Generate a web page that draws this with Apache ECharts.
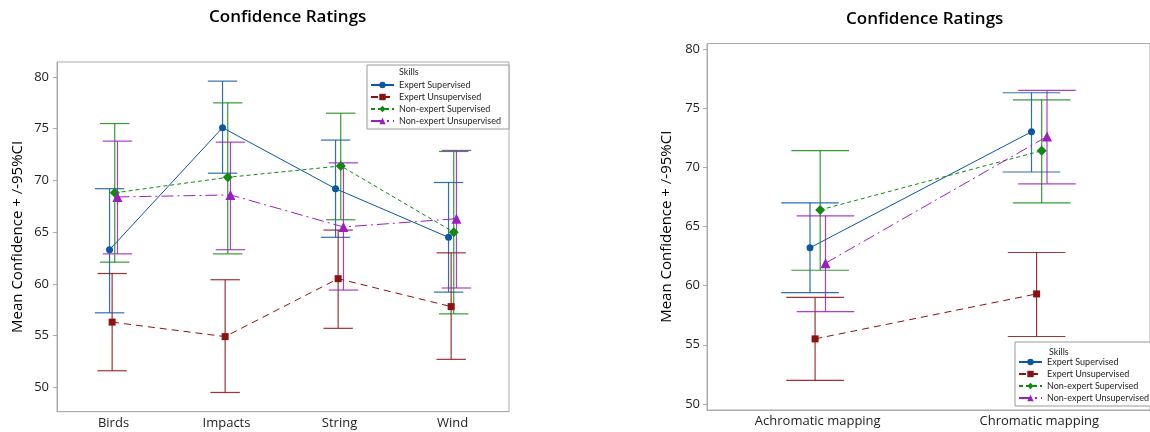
<!DOCTYPE html>
<html>
<head>
<meta charset="utf-8">
<script src="https://cdn.jsdelivr.net/npm/echarts@6/dist/echarts.min.js"></script>
<style>
html,body{margin:0;padding:0;background:#fff;}
#chart{width:1150px;height:432px;}
</style>
</head>
<body>
<div id="chart"></div>
<script>
// ---------- data ----------
const chartTitle = 'Confidence Ratings';
const yAxisTitle = 'Mean Confidence + /-95%CI';
const legendTitle = 'Skills';
const seriesNames = ['Expert Supervised', 'Expert Unsupervised', 'Non-expert Supervised', 'Non-expert Unsupervised'];

// left panel
const categoriesA = ['Birds', 'Impacts', 'String', 'Wind'];
const expSupA = [63.3, 75.1, 69.2, 64.5];
const expSupA_lo = [57.2, 70.7, 64.5, 59.2];
const expSupA_hi = [69.2, 79.6, 73.9, 69.8];
const expUnsA = [56.3, 54.9, 60.5, 57.8];
const expUnsA_lo = [51.6, 49.5, 55.7, 52.7];
const expUnsA_hi = [61.0, 60.4, 65.2, 63.0];
const nexSupA = [68.8, 70.3, 71.4, 65.0];
const nexSupA_lo = [62.1, 62.9, 66.2, 57.1];
const nexSupA_hi = [75.5, 77.5, 76.5, 72.8];
const nexUnsA = [68.4, 68.6, 65.5, 66.3];
const nexUnsA_lo = [62.9, 63.3, 59.4, 59.6];
const nexUnsA_hi = [73.8, 73.7, 71.7, 72.9];

// right panel
const categoriesB = ['Achromatic mapping', 'Chromatic mapping'];
const expSupB = [63.2, 73.0];
const expSupB_lo = [59.4, 69.6];
const expSupB_hi = [67.0, 76.3];
const expUnsB = [55.5, 59.3];
const expUnsB_lo = [52.0, 55.7];
const expUnsB_hi = [59.0, 62.8];
const nexSupB = [66.4, 71.4];
const nexSupB_lo = [61.3, 67.0];
const nexSupB_hi = [71.4, 75.7];
const nexUnsB = [61.9, 72.6];
const nexUnsB_lo = [57.8, 68.6];
const nexUnsB_hi = [65.9, 76.5];

// ---------- styles ----------
const colors = ['#0b57a4', '#8c1212', '#128a12', '#9b1fbf'];
const symbols = ['circle', 'rect', 'diamond', 'triangle'];
const symbolSizes = [7, 7, 10, 10];
const lineTypes = ['solid', [7, 5], [4, 3], [12, 4, 2, 4]];
const dodge = [-0.035, -0.012, 0.011, 0.035];
const capHalf = 0.13;
const FONT = '"Open Sans", "Noto Sans", sans-serif';
const LEGEND_FONT = 'Lato, "Open Sans", sans-serif';

const panels = [
  { cats: categoriesA, means: [expSupA, expUnsA, nexSupA, nexUnsA],
    lo: [expSupA_lo, expUnsA_lo, nexSupA_lo, nexUnsA_lo],
    hi: [expSupA_hi, expUnsA_hi, nexSupA_hi, nexUnsA_hi],
    grid: { left: 57, top: 62, width: 452, height: 349.7 },
    yMin: 47.64, yMax: 81.45, nameGap: 32, labelMargin: 8 },
  { cats: categoriesB, means: [expSupB, expUnsB, nexSupB, nexUnsB],
    lo: [expSupB_lo, expUnsB_lo, nexSupB_lo, nexUnsB_lo],
    hi: [expSupB_hi, expUnsB_hi, nexSupB_hi, nexUnsB_hi],
    grid: { left: 707, top: 43.5, width: 450, height: 366.5 },
    yMin: 49.49, yMax: 80.46, nameGap: 33, labelMargin: 7 }
];

const grids = [], xAxes = [], yAxes = [], series = [];
panels.forEach((p, pi) => {
  grids.push(Object.assign({ show: true, borderColor: '#ababab', borderWidth: 1, backgroundColor: '#fff' }, p.grid));
  // visible category axis (labels/ticks)
  xAxes.push({
    type: 'category', gridIndex: pi, data: p.cats, position: 'bottom',
    axisLine: { onZero: false, lineStyle: { color: '#ababab' } },
    axisTick: { alignWithLabel: true, length: 4, lineStyle: { color: '#ababab' } },
    axisLabel: { color: '#1e1e1e', fontSize: 13, fontFamily: FONT, margin: 5 },
    splitLine: { show: false }
  });
  // hidden numeric axis for dodged marks
  xAxes.push({
    type: 'value', gridIndex: pi, show: false, min: -0.5, max: p.cats.length - 0.5,
    axisLine: { onZero: false }, splitLine: { show: false }
  });
  yAxes.push({
    type: 'value', gridIndex: pi, min: p.yMin, max: p.yMax,
    name: yAxisTitle, nameLocation: 'middle', nameGap: p.nameGap,
    nameTextStyle: { color: '#000', fontSize: 15, fontFamily: FONT, fontWeight: 500 },
    axisLine: { show: true, onZero: false, lineStyle: { color: '#ababab' } },
    axisTick: { show: true, length: 4, lineStyle: { color: '#ababab' } },
    axisLabel: { color: '#1e1e1e', fontSize: 13, fontFamily: FONT, margin: p.labelMargin,
      showMinLabel: false, showMaxLabel: false,
      formatter: v => (Math.abs(v % 5) < 1e-6 ? String(v) : '') },
    splitLine: { show: false }
  });
  const xIdx = pi * 2 + 1;
  seriesNames.forEach((name, s) => {
    const col = colors[s];
    series.push({
      type: 'custom', name: name + ' CI ' + pi, xAxisIndex: xIdx, yAxisIndex: pi,
      silent: true, z: 1,
      data: p.cats.map((c, i) => [i + dodge[s], p.lo[s][i], p.hi[s][i]]),
      encode: { x: 0, y: [1, 2] },
      renderItem: (params, api) => {
        const x = api.value(0), lo = api.value(1), hi = api.value(2);
        const a = api.coord([x, lo]), b = api.coord([x, hi]);
        const hw = api.size([capHalf, 0])[0];
        const st = { stroke: col, lineWidth: 1.2, opacity: 0.85 };
        return { type: 'group', children: [
          { type: 'line', shape: { x1: a[0], y1: a[1], x2: b[0], y2: b[1] }, style: st },
          { type: 'line', shape: { x1: a[0] - hw, y1: a[1], x2: a[0] + hw, y2: a[1] }, style: st },
          { type: 'line', shape: { x1: b[0] - hw, y1: b[1], x2: b[0] + hw, y2: b[1] }, style: st }
        ] };
      }
    });
    series.push({
      type: 'line', name: name, xAxisIndex: xIdx, yAxisIndex: pi, z: 3,
      data: p.cats.map((c, i) => [i + dodge[s], p.means[s][i]]),
      symbol: symbols[s], symbolSize: symbolSizes[s], showSymbol: true,
      itemStyle: { color: col },
      lineStyle: { color: col, width: 1, type: lineTypes[s] },
      animation: false
    });
  });
});

const legendCommon = {
  orient: 'vertical', data: seriesNames, itemWidth: 23, itemHeight: 8, itemGap: 2,
  borderColor: '#9a9a9a', borderWidth: 1, backgroundColor: '#fff',
  textStyle: { fontSize: 9, lineHeight: 10, color: '#1e1e1e', fontFamily: LEGEND_FONT, padding: [0, 0, 0, 0] },
  selectedMode: false, z: 10
};

const option = {
  backgroundColor: '#fff',
  animation: false,
  title: [
    { text: chartTitle, left: 209, top: 9, padding: 0,
      textStyle: { fontSize: 17, fontWeight: 600, color: '#000', fontFamily: FONT } },
    { text: chartTitle, left: 846, top: 11, padding: 0,
      textStyle: { fontSize: 17, fontWeight: 600, color: '#000', fontFamily: FONT } },
    { text: legendTitle, left: 399, top: 68, padding: 0, z: 12,
      textStyle: { fontSize: 9, fontWeight: 400, color: '#1e1e1e', fontFamily: LEGEND_FONT } },
    { text: legendTitle, left: 1049, top: 348, padding: 0, z: 12,
      textStyle: { fontSize: 9, fontWeight: 400, color: '#1e1e1e', fontFamily: LEGEND_FONT } }
  ],
  legend: [
    Object.assign({ left: 367, top: 65, padding: [15, 8, 3, 3] }, legendCommon),
    Object.assign({ left: 1015, top: 342, padding: [15, 8, 3, 3] }, legendCommon)
  ],
  grid: grids,
  xAxis: xAxes,
  yAxis: yAxes,
  series: series
};

const chart = echarts.init(document.getElementById('chart'), null, { renderer: 'canvas' });
chart.setOption(option);
</script>
</body>
</html>
